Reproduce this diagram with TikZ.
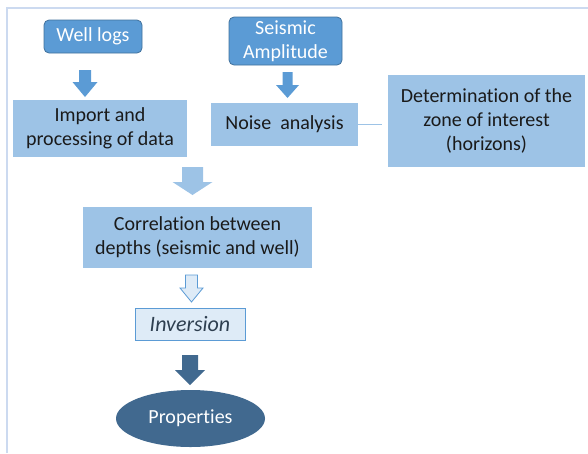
\documentclass[tikz,border=0pt]{standalone}
\usepackage{fontspec}
\setmainfont{Carlito}[Ligatures=NoCommon]
\usetikzlibrary{shapes.geometric}
\definecolor{midblue}{HTML}{5B9BD5}
\definecolor{midborder}{HTML}{41719C}
\definecolor{lightbox}{HTML}{9DC3E6}
\definecolor{paleblue}{HTML}{DEEBF7}
\definecolor{darkblue}{HTML}{41698F}
\definecolor{framecol}{HTML}{CCDAF0}
\definecolor{txt}{HTML}{1A1A1A}
\definecolor{invtxt}{HTML}{2E3F50}
\newcommand\blockarrow[7]{% style, cx, top, headstart, tip, shaft half, head half
  \path[#1] (#2-#6,#3) -- (#2+#6,#3) -- (#2+#6,#4) -- (#2+#7,#4) -- (#2,#5)
    -- (#2-#7,#4) -- (#2-#6,#4) -- cycle;}
\begin{document}
\begin{tikzpicture}[x=1pt,y=-1pt,
  every node/.style={font=\fontsize{20}{24}\selectfont, align=center, inner sep=0pt},
  darkbox/.style={draw=midborder, line width=0.8pt, fill=midblue, rounded corners=5pt, text=white},
  lightrect/.style={fill=lightbox, text=txt},
  arrowmid/.style={fill=midblue},
  arrowlight/.style={fill=lightbox},
  arrowpale/.style={fill=paleblue, draw=midblue, line width=0.8pt},
  arrowdark/.style={fill=darkblue}]
\useasboundingbox (0,0) rectangle (588,453);
\draw[framecol, line width=2pt] (7,453) -- (7,8) -- (588,8);

\node[darkbox, minimum width=98pt, minimum height=33pt] (well) at (93,36.5) {Well logs};
\node[darkbox, minimum width=113pt, minimum height=48pt] (seis) at (285.5,41) {Seismic\\Amplitude};
\node[lightrect, minimum width=174pt, minimum height=57pt] (imp) at (100,128.5) {Import and\\processing of data};
\node[lightrect, minimum width=147pt, minimum height=43pt] (noise) at (284.5,124.5) {Noise\ \ analysis};
\node[lightrect, minimum width=197pt, minimum height=92pt] (det) at (486.5,121) {Determination of the\\zone of interest\\(horizons)};
\node[lightrect, minimum width=229pt, minimum height=61pt] (corr) at (197.5,237.5) {Correlation between\\depths (seismic and well)};
\node[fill=paleblue, draw=midblue, line width=0.8pt, text=invtxt, minimum width=110pt, minimum height=32pt, font=\fontsize{22}{26}\selectfont\itshape] (inv) at (190,324.5) {Inversion};
\node[ellipse, fill=darkblue, text=white, minimum width=149pt, minimum height=57pt] (prop) at (190.5,418.5) {Properties};

\coordinate (detin) at ([xshift=-6pt]noise.east -| det.west);
\draw[lightbox, line width=1.2pt] (noise.east) -- (detin);

\blockarrow{arrowmid}{85}{70}{82}{97}{6}{12.5}
\blockarrow{arrowmid}{287.5}{72}{85}{98}{5}{11.5}
\blockarrow{arrowlight}{192.5}{167}{182}{195}{10.5}{20}
\blockarrow{arrowpale}{191.5}{275}{288}{302}{6}{11.5}
\blockarrow{arrowdark}{190}{355}{370}{385}{8}{15}
\end{tikzpicture}
\end{document}
